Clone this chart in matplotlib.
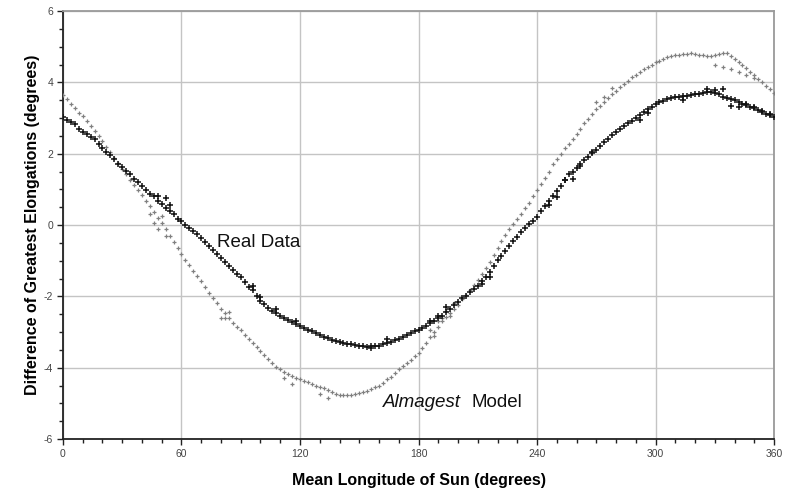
import numpy as np
import matplotlib
matplotlib.use("Agg")
import matplotlib.pyplot as plt
from matplotlib.ticker import MultipleLocator, FuncFormatter

# ---------------- data ----------------
longitude = list(range(0, 361, 2))

real_data = [
    3.02, 2.95, 2.90, 2.82, 2.70, 2.62, 2.55, 2.47, 2.40, 2.28,
    2.15, 2.05, 1.95, 1.85, 1.72, 1.63, 1.52, 1.42, 1.30, 1.20,
    1.08, 0.98, 0.88, 0.80, 0.68, 0.58, 0.48, 0.38, 0.30, 0.18,
    0.10, 0.00, -0.08, -0.18, -0.26, -0.36, -0.48, -0.58, -0.70, -0.80,
    -0.92, -1.03, -1.14, -1.25, -1.36, -1.47, -1.60, -1.75, -1.83, -2.00,
    -2.12, -2.22, -2.32, -2.40, -2.48, -2.55, -2.60, -2.67, -2.72, -2.78,
    -2.82, -2.88, -2.93, -2.98, -3.03, -3.08, -3.13, -3.18, -3.22, -3.25,
    -3.28, -3.30, -3.33, -3.35, -3.37, -3.38, -3.40, -3.41, -3.40, -3.40,
    -3.38, -3.35, -3.30, -3.27, -3.23, -3.20, -3.15, -3.08, -3.03, -2.98,
    -2.95, -2.88, -2.82, -2.75, -2.68, -2.62, -2.55, -2.45, -2.35, -2.25,
    -2.15, -2.05, -1.98, -1.88, -1.80, -1.70, -1.58, -1.45, -1.32, -1.15,
    -0.98, -0.88, -0.72, -0.60, -0.45, -0.33, -0.20, -0.08, 0.02, 0.12,
    0.23, 0.38, 0.52, 0.66, 0.82, 0.95, 1.10, 1.25, 1.42, 1.50,
    1.60, 1.72, 1.82, 1.92, 2.02, 2.10, 2.22, 2.32, 2.42, 2.52,
    2.62, 2.70, 2.78, 2.86, 2.93, 3.00, 3.08, 3.16, 3.24, 3.31,
    3.38, 3.44, 3.48, 3.52, 3.56, 3.58, 3.60, 3.62, 3.63, 3.64,
    3.66, 3.67, 3.70, 3.72, 3.74, 3.70, 3.66, 3.60, 3.55, 3.52,
    3.50, 3.45, 3.40, 3.36, 3.32, 3.28, 3.22, 3.17, 3.12, 3.08,
    3.04,
]

almagest_model = [
    3.64, 3.52, 3.40, 3.28, 3.15, 3.05, 2.92, 2.78, 2.65, 2.50,
    2.35, 2.18, 2.05, 1.88, 1.73, 1.58, 1.42, 1.26, 1.12, 0.98,
    0.85, 0.68, 0.52, 0.36, 0.20, 0.05, -0.12, -0.30, -0.48, -0.65,
    -0.82, -0.98, -1.12, -1.28, -1.43, -1.58, -1.73, -1.90, -2.05, -2.20,
    -2.35, -2.48, -2.62, -2.75, -2.85, -2.95, -3.07, -3.20, -3.30, -3.42,
    -3.52, -3.65, -3.77, -3.88, -3.98, -4.05, -4.12, -4.18, -4.23, -4.28,
    -4.32, -4.36, -4.40, -4.45, -4.50, -4.53, -4.58, -4.63, -4.68, -4.73,
    -4.76, -4.78, -4.78, -4.76, -4.74, -4.72, -4.68, -4.64, -4.60, -4.55,
    -4.50, -4.42, -4.33, -4.25, -4.15, -4.05, -3.96, -3.88, -3.78, -3.68,
    -3.58, -3.45, -3.30, -3.15, -3.00, -2.85, -2.70, -2.58, -2.46, -2.35,
    -2.25, -2.08, -1.95, -1.82, -1.68, -1.55, -1.38, -1.20, -1.05, -0.85,
    -0.65, -0.45, -0.28, -0.12, 0.02, 0.16, 0.32, 0.48, 0.62, 0.80,
    0.97, 1.15, 1.32, 1.50, 1.70, 1.85, 2.00, 2.15, 2.28, 2.42,
    2.55, 2.70, 2.85, 2.98, 3.12, 3.25, 3.35, 3.45, 3.55, 3.66,
    3.76, 3.86, 3.96, 4.05, 4.14, 4.22, 4.30, 4.37, 4.44, 4.50,
    4.56, 4.61, 4.65, 4.70, 4.73, 4.76, 4.78, 4.80, 4.80, 4.81,
    4.80, 4.78, 4.77, 4.75, 4.74, 4.76, 4.80, 4.82, 4.81, 4.75,
    4.66, 4.57, 4.49, 4.40, 4.30, 4.20, 4.10, 4.00, 3.90, 3.80,
    3.70,
]

# extra scattered observations (second branches)
real_extra_lon = [48, 52, 54, 96, 100, 108, 118, 156, 164, 186, 190, 194, 212, 216,
                  246, 250, 254, 258, 262, 268, 292, 296, 314, 326, 330, 334, 338,
                  342, 346, 350, 354, 358]
real_extra_val = [0.80, 0.75, 0.55, -1.70, -2.02, -2.35, -2.70, -3.45, -3.20, -2.70,
                  -2.55, -2.30, -1.65, -1.45, 0.55, 0.78, 1.25, 1.28, 1.65, 2.05,
                  2.95, 3.15, 3.50, 3.80, 3.78, 3.82, 3.35, 3.30, 3.40, 3.30, 3.20,
                  3.12]

model_extra_lon = [44, 46, 48, 50, 52, 80, 82, 84, 112, 116, 130, 134, 186, 188, 190,
                   192, 194, 196, 198, 270, 274, 278, 330, 334, 338, 342, 346, 350]
model_extra_val = [0.30, 0.05, -0.10, 0.25, -0.30, -2.62, -2.60, -2.45, -4.30, -4.45,
                   -4.75, -4.85, -2.95, -3.10, -2.70, -2.60, -2.40, -2.55, -2.20, 3.45,
                   3.60, 3.85, 4.50, 4.44, 4.38, 4.30, 4.22, 4.12]

x_ticks = [0, 60, 120, 180, 240, 300, 360]
y_ticks = [-6, -4, -2, 0, 2, 4, 6]

# ---------------- plotting ----------------
plt.rcParams['font.family'] = ['Liberation Sans', 'DejaVu Sans']

fig = plt.figure(figsize=(7.98, 4.92), dpi=100)
ax = fig.add_axes([0.0789, 0.1077, 0.8911, 0.8699])

gray = '#808080'
ax.plot(longitude, almagest_model, linestyle='none', marker='+',
        markersize=3.2, markeredgewidth=0.9, color=gray, zorder=3)
ax.plot(model_extra_lon, model_extra_val, linestyle='none', marker='+',
        markersize=3.2, markeredgewidth=0.9, color=gray, zorder=3)
ax.plot(longitude, real_data, linestyle='none', marker='+',
        markersize=4.2, markeredgewidth=1.1, color='#111111', zorder=4)
ax.plot(real_extra_lon, real_extra_val, linestyle='none', marker='+',
        markersize=4.2, markeredgewidth=1.1, color='#111111', zorder=4)

ax.set_xlim(0, 360)
ax.set_ylim(-6, 6)
ax.set_xticks(x_ticks)
ax.set_yticks(y_ticks)
ax.xaxis.set_minor_locator(MultipleLocator(10))
ax.yaxis.set_minor_locator(MultipleLocator(0.5))
ax.yaxis.set_major_formatter(FuncFormatter(lambda v, p: f"{int(v)}"))

ax.grid(True, which='major', color='#c4c4c4', linewidth=1.0, zorder=0)
ax.set_axisbelow(True)

for s in ['top', 'right']:
    ax.spines[s].set_color('#9a9a9a')
    ax.spines[s].set_linewidth(1.3)
for s in ['left', 'bottom']:
    ax.spines[s].set_color('#222222')
    ax.spines[s].set_linewidth(1.3)

ax.tick_params(axis='both', which='major', direction='out', length=4, width=1,
               color='#222222', labelsize=7.5, labelcolor='#444444', pad=3)
ax.tick_params(axis='both', which='minor', direction='out', length=3, width=1,
               color='#222222')

ax.set_xlabel('Mean Longitude of Sun (degrees)', fontsize=11.5, fontweight='bold',
              labelpad=10)
ax.set_ylabel('Difference of Greatest Elongations (degrees)', fontsize=11.5,
              fontweight='bold', labelpad=3)

ax.text(78, -0.48, 'Real Data', fontsize=13.5, ha='left', va='center', color='#111111')
ax.text(162, -4.99, 'Almagest', fontsize=13.5, ha='left', va='center',
        style='italic', color='#111111')
ax.text(207, -4.99, 'Model', fontsize=13.5, ha='left', va='center', color='#111111')

fig.savefig('out.png', dpi=100)
